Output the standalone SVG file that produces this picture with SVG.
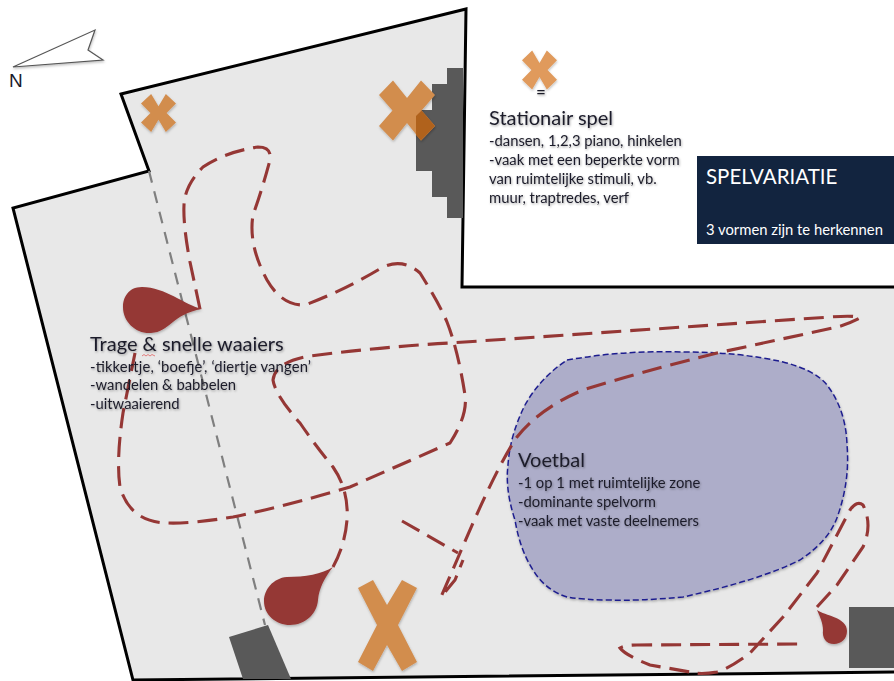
<svg xmlns="http://www.w3.org/2000/svg" xmlns:xlink="http://www.w3.org/1999/xlink" width="894" height="681" viewBox="0 0 894 681">
<style>
.t{font-family:Lato,"Noto Sans",sans-serif;fill:#1c1c2a;filter:url(#ts)}
.h{font-size:20px}
.b{font-size:14.8px}
.x{fill:#d28d4e}
.r{fill:none;stroke:#953735;stroke-width:3.1;stroke-dasharray:20 9}
.d{fill:#953735;filter:url(#ss)}
.g{fill:#595959}
</style>
<defs>
<filter id="ss" x="-20%" y="-20%" width="140%" height="140%"><feDropShadow dx="0.5" dy="1.5" stdDeviation="1.2" flood-color="#000" flood-opacity="0.25"/></filter>
<filter id="ts" x="-5%" y="-20%" width="110%" height="150%"><feDropShadow dx="0.8" dy="1.2" stdDeviation="0.9" flood-color="#000" flood-opacity="0.35"/></filter>
<polygon id="xs" points="-1,-.52 -.5,-1 0,-.42 .5,-1 1,-.52 .52,0 1,.52 .5,1 0,.42 -.5,1 -1,.52 -.52,0"/>
<polygon id="xt" points="-1,-.5 -.42,-1 0,-.36 .42,-1 1,-.5 .46,0 1,.5 .42,1 0,.36 -.42,1 -1,.5 -.46,0"/>
</defs>

<g id="floor"><polygon points="121,94 466,9 462,287 896,287 896,672 133,680 13,208 149,171" fill="#e8e8e8" stroke="#000" stroke-width="3" stroke-linejoin="miter"/></g>

<g id="north"><polygon points="13,67 95,30 88,50 103,60" fill="#fff" stroke="#555" stroke-width="1.2" filter="url(#ss)"/><text x="9" y="87" font-family="'Liberation Sans',sans-serif" font-size="19" fill="#1a1a2a">N</text></g>

<g id="stairs"><rect class="g" x="416" y="110" width="16" height="61"/><rect class="g" x="432" y="84" width="15" height="113"/><rect class="g" x="447" y="68" width="16" height="150"/></g>
<g id="gate"><polygon class="g" points="229,637 268,625 291,679 243,679"/></g>
<g id="block"><rect class="g" x="849" y="607" width="45" height="61"/></g>

<g id="voetbal-zone"><path d="M567,360 Q625,350 683,352 Q740,352 783,362 Q815,370 827,385 Q846,410 847,445 Q850,480 838,515 Q830,540 800,560 Q760,580 683,597 Q640,601 610,600 Q585,600 567,597 Q545,590 533,570 Q520,550 515,520 Q505,490 508,465 Q510,435 525,405 Q540,378 567,360Z" fill="#adadc9" stroke="#1f1f8f" stroke-width="1.5" stroke-dasharray="6 3" filter="url(#ss)"/></g>

<g id="connectors">
<line x1="149" y1="171" x2="265" y2="625" fill="none" stroke="#7f7f7f" stroke-width="2.2" stroke-dasharray="12 9"/>
<path class="r" d="M200,309 L190,262 Q183,225 184,205 Q185,185 203,167 Q225,152 258,147 Q272,147 270,160 Q262,190 253,215 Q248,245 267,280 Q282,306 305,305 Q345,290 383,267 Q403,258 420,273 Q440,305 447,322 Q458,350 465,395 Q468,415 450,443 Q400,465 350,487 Q290,505 233,517 Q190,524 167,523 Q130,522 120,487 Q116,460 123,413 L135,353"/>
<path class="r" d="M333,567 Q345,545 347,520 Q349,490 333,467 Q315,445 300,423 Q275,395 273,380 Q275,362 310,356 Q380,347 450,343 L830,317 Q856,315 860,318 Q847,325 833,328 L777,340 L717,353 Q640,372 583,390 Q540,408 517,437 Q500,462 473,523 L460,553 L441,597 L455,580 L463,560"/>
<path class="r" d="M402,521 L458,553"/>
<path class="r" d="M817,607 L837,585 L863,547 Q873,525 863,505 Q857,500 850,510 L817,573 L783,617 L750,653 Q730,668 717,672 Q700,675 690,672 L650,665 Q625,655 620,648 Q625,645 637,645 L800,644"/>
</g>

<g id="x-small" filter="url(#ss)"><use xlink:href="#xt" href="#xt" class="x" transform="translate(158.5,113) scale(17.5,19)"/></g>
<g id="x-large" filter="url(#ss)"><use xlink:href="#xs" href="#xs" class="x" transform="translate(407,110.5) scale(28,30)"/><polygon points="416,116 421.6,110.5 435,126 421,140.5 416,135" fill="#b0621f"/></g>
<g id="x-legend" filter="url(#ss)"><use xlink:href="#xt" href="#xt" transform="translate(539.5,70) scale(17.5,19.5)" fill="#e09a5c"/></g>
<g id="x-bottom" filter="url(#ss)"><polygon class="x" points="358,588 373,580 387,605 402,580 417,588 398,625 417,662 402,671 387,645 373,671 358,662 377,625"/></g>

<g id="drop-1"><path class="d" d="M202,309 C185,305 165,287 142,287 C128,287 123,298 123,307 C123,322 136,334 151,333 C170,332 172,314 202,309Z"/></g>
<g id="drop-2"><path class="d" d="M333,567 C322,574 305,577 287,577 C273,578 264,590 264,601 C264,615 276,625 290,625 C305,625 317,614 318,600 C319,588 325,577 333,567Z"/></g>
<g id="drop-3"><path class="d" d="M817,610 C825,616 847,617 847,631 C847,639 841,644 834,644 C826,644 822,638 823,630 C823,623 820,617 817,610Z"/></g>

<g id="legend-stationair">
<text class="t" x="536" y="98" font-size="17">=</text>
<text class="t h" x="489" y="125">Stationair spel</text>
<text class="t b" x="489" y="146">-dansen, 1,2,3 piano, hinkelen</text>
<text class="t b" x="489" y="165">-vaak met een beperkte vorm</text>
<text class="t b" x="489" y="184">van ruimtelijke stimuli, vb.</text>
<text class="t b" x="489" y="203">muur, traptredes, verf</text>
</g>

<g id="title"><rect x="697" y="156" width="197" height="88" fill="#12243f"/>
<text x="706" y="184" font-family="Lato,'Noto Sans',sans-serif" font-size="20.5" fill="#fff">SPELVARIATIE</text>
<text x="706" y="235" font-family="Lato,'Noto Sans',sans-serif" font-size="14.8" fill="#fff">3 vormen zijn te herkennen</text></g>

<g id="legend-waaiers">
<text class="t h" x="90" y="351">Trage &amp; snelle waaiers</text>
<text class="t b" x="90" y="372" textLength="221">-tikkertje, ‘boefje’, ‘diertje vangen’</text>
<text class="t b" x="90" y="390">-wandelen &amp; babbelen</text>
<text class="t b" x="90" y="409">-uitwaaierend</text>
<path d="M142,356 l2,-1.5 l2,1.5 l2,-1.5 l2,1.5 l2,-1.5 l3,1.5" fill="none" stroke="#e06060" stroke-width="0.8"/>
</g>

<g id="legend-voetbal">
<text class="t h" x="518" y="467">Voetbal</text>
<text class="t b" x="518" y="488">-1 op 1 met ruimtelijke zone</text>
<text class="t b" x="518" y="507">-dominante spelvorm</text>
<text class="t b" x="518" y="526">-vaak met vaste deelnemers</text>
</g>
</svg>
